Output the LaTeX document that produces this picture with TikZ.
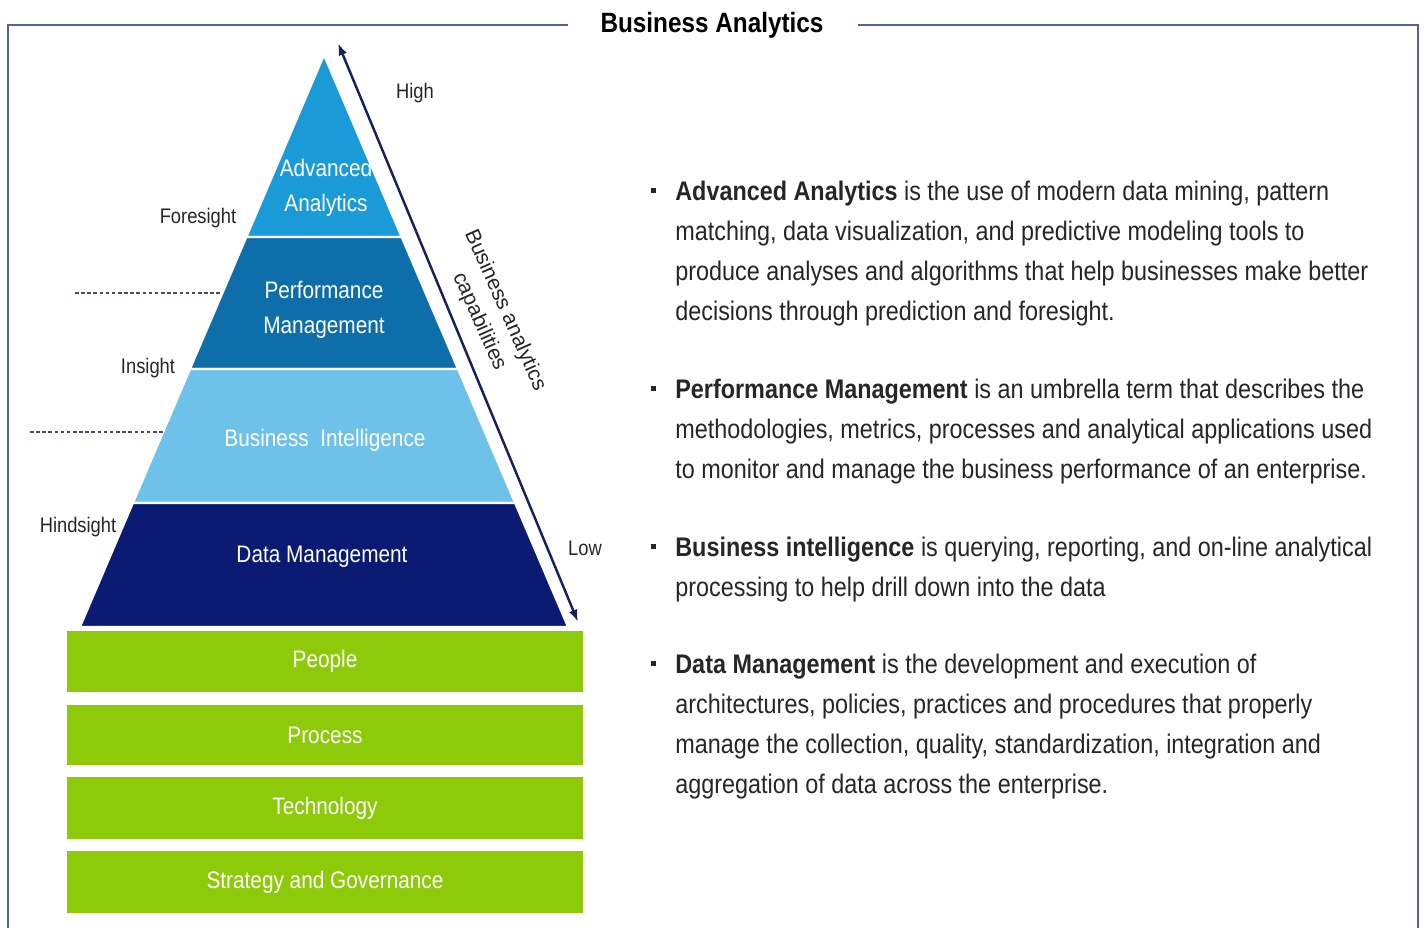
\documentclass[tikz,border=0pt]{standalone}
\usepackage{fontspec}
\setmainfont[FakeStretch=0.87]{Liberation Sans}
\newfontfamily\plainfont{Liberation Sans}
\usetikzlibrary{arrows.meta}
\definecolor{aaBlue}{HTML}{1B9AD8}
\definecolor{pmBlue}{HTML}{0E6EAA}
\definecolor{biBlue}{HTML}{6EC1E9}
\definecolor{dmBlue}{HTML}{0B1A73}
\definecolor{barGreen}{HTML}{8DCA0A}
\definecolor{frameBlue}{HTML}{5560A8}
\definecolor{arrowNavy}{HTML}{1A1F5E}
\definecolor{txtGray}{HTML}{262626}
\definecolor{dashGray}{HTML}{4A4A70}
\newcommand\bulletmark{\llap{\rule[0.28em]{3pt}{3pt}\hspace{11pt}}}
\tikzset{
  layer/.style={draw=white, line width=1.2pt},
  lbl/.style={text=white, font=\fontsize{13.6}{19.8}\selectfont, align=center},
  side/.style={text=txtGray, font=\fontsize{12}{14}\selectfont},
  bar/.style={fill=barGreen, draw=none},
  para/.style={anchor=north west, inner sep=0pt, align=left, text=txtGray,
    font=\fontsize{15.3}{22.7}\selectfont}
}
\begin{document}
\begin{tikzpicture}[x=0.02cm,y=-0.02cm]
\useasboundingbox (0,0) rectangle (1425,928);

\draw[frameBlue, line width=1.4pt] (8,928) -- (8,25) -- (568,25);
\draw[frameBlue, line width=1.4pt] (858,25) -- (1418,25) -- (1418,928);
\node[font=\bfseries\fontsize{15.9}{18}\selectfont, text=black] (title) at (712,25) {Business Analytics};

\path[layer, fill=aaBlue] (324,55) -- (246.4,237) -- (401.6,237) -- cycle;
\path[layer, fill=pmBlue] (246.4,237) -- (190,369) -- (458,369) -- (401.6,237) -- cycle;
\path[layer, fill=biBlue] (190,369) -- (132.9,503) -- (515.1,503) -- (458,369) -- cycle;
\path[layer, fill=dmBlue] (132.9,503) -- (80,627) -- (568,627) -- (515.1,503) -- cycle;

\node[lbl] (aa) at (326,188) {Advanced\\Analytics};
\node[lbl] (pm) at (324,310) {Performance\\Management};
\node[lbl] (bi) at (325,440) {Business\ \ Intelligence};
\node[lbl] (dm) at (322,557) {Data Management};

\draw[bar] (67,631) rectangle (583,692) node[pos=.5, lbl] (people) {People};
\draw[bar] (67,705) rectangle (583,765) node[pos=.5, lbl] (process) {Process};
\draw[bar] (67,777) rectangle (583,839) node[pos=.5, lbl] (tech) {Technology};
\draw[bar] (67,851) rectangle (583,913) node[pos=.5, lbl] (strat) {Strategy and Governance};

\node[side] (high) at (415,93) {High};
\node[side] (fore) at (198,218) {Foresight};
\node[side] (ins) at (148,368) {Insight};
\node[side] (hind) at (78,527) {Hindsight};
\node[side] (low) at (585,548) {Low};

\draw[dashGray, line width=0.9pt, dash pattern=on 2pt off 1.5pt] (75,293) -- (222,293);
\draw[dashGray, line width=0.9pt, dash pattern=on 2pt off 1.5pt] (30,432) -- (163,432);

\coordinate (hi) at (338,43);
\coordinate (lo) at (578,622);
\draw[arrowNavy, line width=1.4pt, {Latex[length=7pt,width=5pt]}-{Latex[length=7pt,width=5pt]}] (hi) -- (lo);
\node[side, font=\plainfont\fontsize{12}{16}\selectfont, rotate=-66, align=center] (cap) at (492,316) {Business analytics\\capabilities};

\node[para] (p1) at (675,181) {\bulletmark\textbf{Advanced Analytics} is the use of modern data mining, pattern\\
matching, data visualization, and predictive modeling tools to\\
produce analyses and algorithms that help businesses make better\\
decisions through prediction and foresight.};
\node[para] (p2) at (675,379) {\bulletmark\textbf{Performance Management} is an umbrella term that describes the\\
methodologies, metrics, processes and analytical applications used\\
to monitor and manage the business performance of an enterprise.};
\node[para] (p3) at (675,537) {\bulletmark\textbf{Business intelligence} is querying, reporting, and on-line analytical\\
processing to help drill down into the data};
\node[para] (p4) at (675,654) {\bulletmark\textbf{Data Management} is the development and execution of\\
architectures, policies, practices and procedures that properly\\
manage the collection, quality, standardization, integration and\\
aggregation of data across the enterprise.};
\end{tikzpicture}
\end{document}
